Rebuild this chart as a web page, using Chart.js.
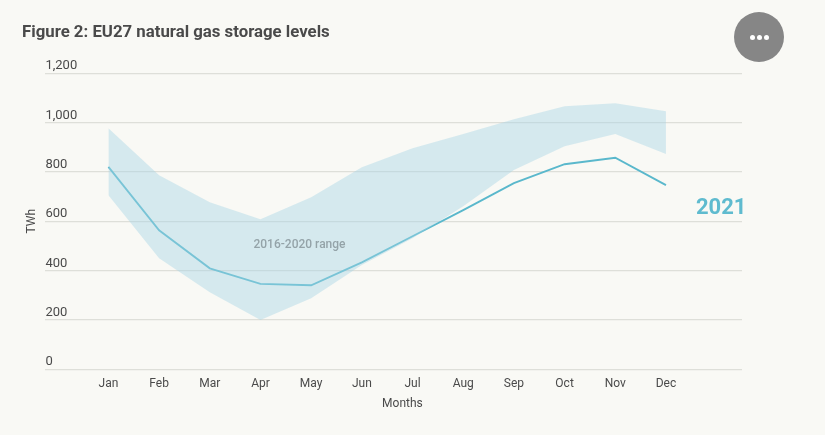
<!DOCTYPE html>
<html>
<head>
<meta charset="utf-8">
<script src="https://cdn.jsdelivr.net/npm/chart.js@4"></script>
<style>
  html, body { margin: 0; padding: 0; background: #f9f9f5; overflow: hidden; }
  #wrap { position: relative; width: 825px; height: 435px; }
  #more { position: absolute; left: 734px; top: 12px; width: 50px; height: 50px; border-radius: 50%;
          background: #868686; display: flex; align-items: center; justify-content: center; gap: 2px; }
  #more span { width: 5px; height: 5px; border-radius: 50%; background: #fff; }
</style>
</head>
<body>
<div id="wrap">
  <canvas id="chart" width="825" height="435"></canvas>
  <div id="more"><span></span><span></span><span></span></div>
</div>
<script>
const months = ['Jan', 'Feb', 'Mar', 'Apr', 'May', 'Jun', 'Jul', 'Aug', 'Sep', 'Oct', 'Nov', 'Dec'];
const rangeHigh = [977, 786, 677, 608, 697, 819, 896, 953, 1013, 1066, 1078, 1046];
const rangeLow = [705, 450, 312, 199, 288, 422, 531, 661, 807, 904, 953, 872];
const levels2021 = [820, 563, 409, 346, 340, 433, 539, 645, 754, 831, 857, 746];

const toPoints = values => values.map((y, x) => ({ x, y }));
const textColor = '#4a4a4a';
const fontFamily = 'Roboto, sans-serif';

// labels sitting on the plot, placed through the scales
const notes = {
  id: 'notes',
  afterDatasetsDraw(chart) {
    const { ctx, scales: { x, y } } = chart;
    ctx.save();
    ctx.textBaseline = 'middle';
    ctx.textAlign = 'center';
    ctx.fillStyle = '#94a3a8';
    ctx.font = '500 12px ' + fontFamily;
    ctx.fillText('2016-2020 range', x.getPixelForValue(3.77), y.getPixelForValue(503));
    ctx.fillStyle = '#5fbbcf';
    ctx.font = 'bold 22px ' + fontFamily;
    ctx.fillText('2021', x.getPixelForValue(12.09), y.getPixelForValue(650));
    // axis title is off-centre in the original, the built-in one can't do that
    ctx.fillStyle = textColor;
    ctx.font = '12px ' + fontFamily;
    ctx.fillText('Months', x.getPixelForValue(5.8), y.bottom + 35);
    ctx.restore();
  }
};

new Chart(document.getElementById('chart'), {
  type: 'line',
  data: {
    datasets: [
      { data: toPoints(rangeHigh), borderWidth: 0, pointRadius: 0, fill: '+1', backgroundColor: 'rgba(165,212,228,0.42)' },
      { data: toPoints(rangeLow), borderWidth: 0, pointRadius: 0, fill: false },
      { data: toPoints(levels2021), borderColor: '#5ab8cc', borderWidth: 1.9, pointRadius: 0, fill: false }
    ]
  },
  options: {
    responsive: false,
    animation: false,
    layout: { padding: { left: 22, right: 83, top: 12, bottom: 43.4 } },
    plugins: {
      legend: { display: false },
      tooltip: { enabled: false },
      title: {
        display: true,
        text: 'Figure 2: EU27 natural gas storage levels',
        align: 'start',
        color: textColor,
        font: { family: fontFamily, size: 16.8, weight: 'bold' },
        padding: { top: 11, bottom: 30 }
      }
    },
    scales: {
      x: {
        type: 'linear',
        min: -1.243,
        max: 12.5,
        afterBuildTicks: axis => { axis.ticks = months.map((m, i) => ({ value: i })); },
        grid: { display: false },
        border: { display: false },
        ticks: {
          autoSkip: false,
          maxRotation: 0,
          color: textColor,
          padding: 0,
          font: { family: fontFamily, size: 12 },
          callback: value => months[value]
        }
      },
      y: {
        min: 0,
        max: 1200,
        grid: { color: '#dedfd9', lineWidth: 1.2, drawTicks: false },
        border: { display: false },
        ticks: {
          stepSize: 200,
          mirror: true,
          padding: 0,
          labelOffset: -7,
          color: textColor,
          font: { family: fontFamily, size: 13 },
          callback: value => value.toLocaleString('en-US')
        },
        title: { display: true, text: 'TWh', color: textColor, padding: { top: 3, bottom: 6 }, font: { family: fontFamily, size: 12 } }
      }
    }
  },
  plugins: [notes]
});
</script>
</body>
</html>
